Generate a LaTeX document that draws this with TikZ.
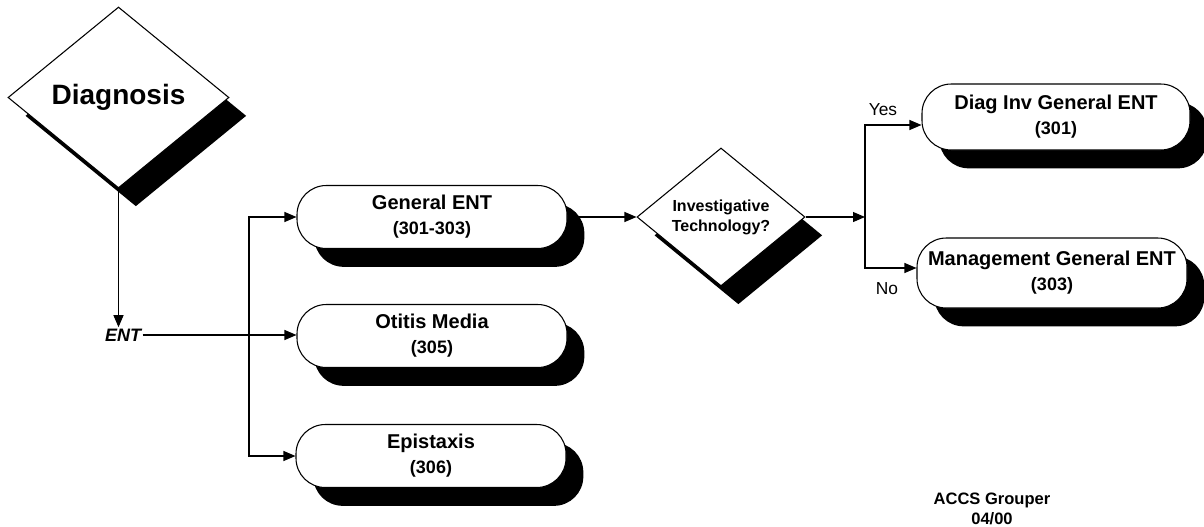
\documentclass[tikz,border=0pt]{standalone}
\usepackage{fontspec}
\setmainfont{Liberation Sans}
\usetikzlibrary{shapes.geometric,arrows.meta,shadows,positioning}
\newcommand\drgcode[1]{{\fontsize{13.5}{18.75}\selectfont #1}}

\begin{document}
\begin{tikzpicture}[x=0.75pt,y=-0.75pt,
  arr/.style={-{Triangle[length=9pt,width=7.5pt]},line width=0.8pt},
  shade/.style={drop shadow={shadow xshift=13pt,shadow yshift=-13.75pt,fill=black,opacity=1}},
  decision/.style={diamond,aspect=1.22,draw,fill=white,line width=0.8pt,inner sep=0pt,align=center,shade,font=\bfseries\fontsize{12}{15}\selectfont},
  group/.style={rectangle,draw,fill=white,line width=0.8pt,rounded corners=22pt,minimum width=202.5pt,minimum height=47.25pt,align=center,shade,font=\bfseries\fontsize{15}{18.75}\selectfont}]
  \useasboundingbox (0,0) rectangle (1204,526);
  \node[decision,minimum width=165.75pt,minimum height=135.75pt,font=\bfseries\fontsize{21}{25}\selectfont] (diag) at (118.5,97.5) {Diagnosis};
  \node[font=\bfseries\itshape\fontsize{13.5}{16}\selectfont,inner sep=1pt] (ent) at (123,335) {ENT};
  \node[group] (general) at (432,217) {General ENT\\\drgcode{(301-303)}};
  \node[group] (otitis) at (432,336) {Otitis Media\\\drgcode{(305)}};
  \node[group] (epist) at (431,456) {Epistaxis\\\drgcode{(306)}};
  \node[decision,minimum width=126pt,minimum height=103.5pt] (invest) at (721,217) {Investigative\\Technology?};
  \node[group,minimum width=201pt,minimum height=49.5pt] (diaginv) at (1056,117) {Diag Inv General ENT\\\drgcode{(301)}};
  \node[group,minimum width=202.5pt,minimum height=52.5pt] (mgmt) at (1052,273) {Management General ENT\\\drgcode{(303)}};
  \node[font=\fontsize{13}{15}\selectfont] (yes) at (883,110) {Yes};
  \node[font=\fontsize{13}{15}\selectfont] (no) at (887,289) {No};
  \node[font=\bfseries\fontsize{12.4}{15}\selectfont,align=center] (stamp) at (992,509) {ACCS Grouper\\04/00};
  \coordinate (br) at (249,335);
  \coordinate (fork) at (865,217);
  \draw[arr] (diag.south) -- (diag.south |- ent.north);
  \draw[arr] (ent.east) -- (ent.east -| otitis.west);
  \draw[arr] (br) |- (general.west);
  \draw[arr] (br) |- (epist.west);
  \draw[arr] (general.east) -- (invest.west);
  \draw[arr] (invest.east) -- (fork);
  \draw[arr] (fork) |- ([yshift=-6pt]diaginv.west);
  \draw[arr] (fork) |- ([yshift=3.75pt]mgmt.west);
\end{tikzpicture}
\end{document}
